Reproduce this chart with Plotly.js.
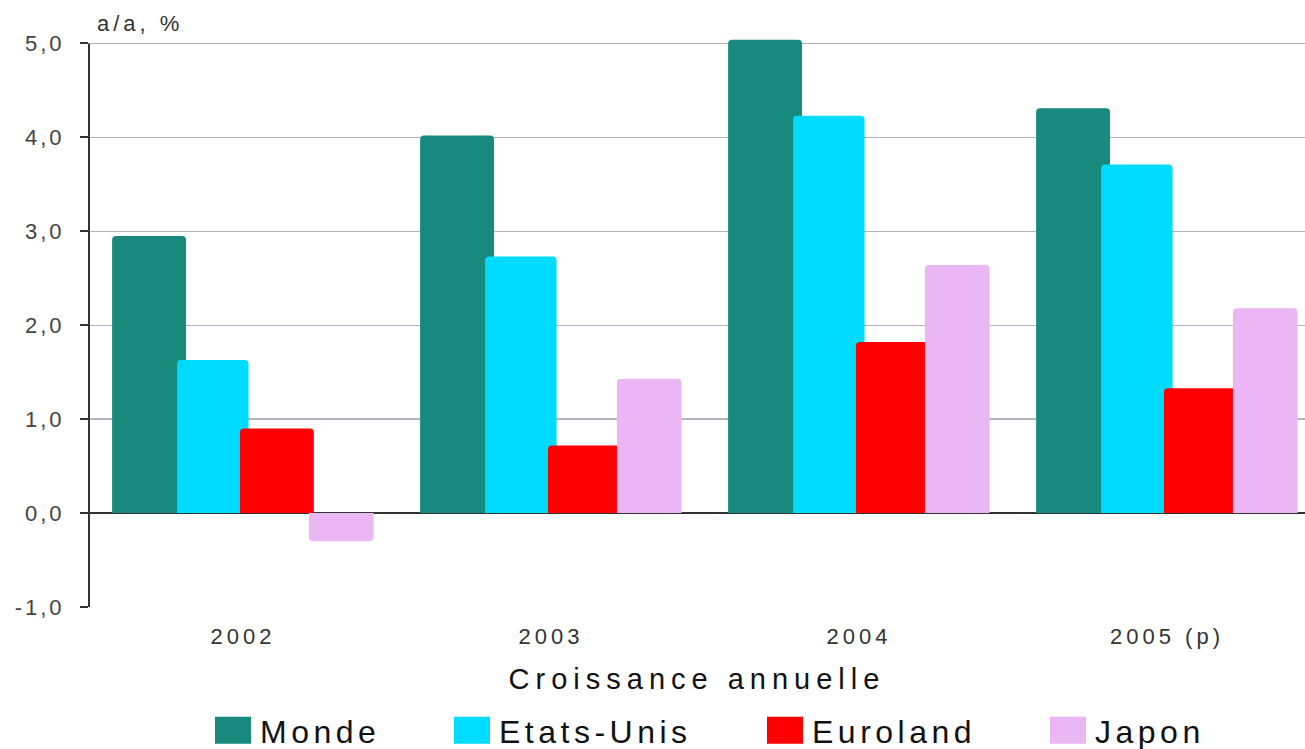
<!DOCTYPE html>
<html>
<head>
<meta charset="utf-8">
<script src="https://cdn.plot.ly/plotly-3.0.1.min.js"></script>
<style>
  html, body { margin: 0; padding: 0; background: #fff; }
  #chart { width: 1305px; height: 749px; }
  .xtick text { letter-spacing: 4px; }
  .ytick text { letter-spacing: 3px; }
  .g-xtitle text { letter-spacing: 6px; }
  text.legendtext { letter-spacing: 4.5px; }
  .annotation-text { letter-spacing: 4px; }
</style>
</head>
<body>
<div id="chart"></div>
<script>
const categories = ["2002", "2003", "2004", "2005 (p)"];
const monde = [2.95, 4.02, 5.04, 4.31];
const etatsUnis = [1.63, 2.73, 4.23, 3.71];
const euroland = [0.90, 0.72, 1.82, 1.33];
const japon = [-0.30, 1.43, 2.64, 2.18];

const seriesNames = ["Monde", "Etats-Unis", "Euroland", "Japon"];
const seriesValues = [monde, etatsUnis, euroland, japon];
const yTickVals = [-1, 0, 1, 2, 3, 4, 5];
const yTickText = ["-1,0", "0,0", "1,0", "2,0", "3,0", "4,0", "5,0"];

const colors = ["#17897d", "#00dcff", "#ff0000", "#eab6f4"];
const offsets = [-0.425, -0.214, -0.01, 0.214];
const widths = [0.24, 0.232, 0.24, 0.21];
const legendIds = ["legend", "legend2", "legend3", "legend4"];
const swatchLeft = [215, 454, 767, 1050];

const traces = seriesNames.map((name, i) => ({
  type: "bar",
  name: name,
  x: categories,
  y: seriesValues[i],
  offset: offsets[i],
  width: widths[i],
  legend: legendIds[i],
  marker: { color: colors[i], line: { width: 0 }, cornerradius: 4 },
  hoverinfo: "x+y+name"
}));

const layout = {
  width: 1305,
  height: 749,
  margin: { l: 89, r: 0, t: 33.6, b: 142 },
  paper_bgcolor: "#ffffff",
  plot_bgcolor: "#ffffff",
  barmode: "overlay",
  font: { family: "Liberation Sans, Arial, sans-serif", color: "#333333" },
  showlegend: true,
  xaxis: {
    type: "category",
    range: [-0.5, 3.448],
    showgrid: false,
    showline: false,
    ticks: "",
    ticklabelstandoff: 14,
    tickfont: { size: 22, color: "#333333" },
    title: { text: "Croissance annuelle", font: { size: 29, color: "#111111" }, standoff: 20 }
  },
  yaxis: {
    range: [-1, 5.1],
    tickvals: yTickVals,
    ticktext: yTickText,
    showgrid: true,
    gridcolor: "#b6b0c0",
    gridwidth: 1.3,
    zeroline: true,
    zerolinecolor: "#333333",
    zerolinewidth: 1.5,
    showline: false,
    ticks: "outside",
    ticklen: 8,
    tickwidth: 2,
    tickcolor: "#333333",
    ticklabelstandoff: 11,
    tickfont: { size: 22, color: "#444444" }
  },
  shapes: [{
    type: "line", xref: "paper", yref: "y",
    x0: 0, x1: 0, y0: -1, y1: 5,
    line: { color: "#333333", width: 2 }
  }],
  annotations: [{
    text: "a/a, %",
    xref: "paper", yref: "paper",
    x: 0.0, y: 1.0,
    xanchor: "left", yanchor: "bottom",
    xshift: 6, yshift: -4,
    showarrow: false,
    font: { size: 22, color: "#333333" }
  }]
};

legendIds.forEach((id, i) => {
  layout[id] = {
    orientation: "h",
    x: (swatchLeft[i] - 5) / 1305, xref: "container", xanchor: "left",
    y: (749 - 731) / 749, yref: "container", yanchor: "middle",
    font: { size: 32, color: "#111111" },
    itemwidth: 40,
    bgcolor: "rgba(0,0,0,0)",
    borderwidth: 0
  };
});

function restyleLegends() {
  document.querySelectorAll(".legendpoints path").forEach(p => {
    p.setAttribute("d", "M16,13H-20V-14H16Z");
  });
  document.querySelectorAll("svg text").forEach(t => {
    if (seriesNames.indexOf(t.textContent) !== -1) {
      t.setAttribute("letter-spacing", "4.5");
      t.style.letterSpacing = "4.5px";
      let el = t.parentNode;
      while (el && el.tagName && el.tagName.toLowerCase() !== "svg") {
        if (el.hasAttribute && el.hasAttribute("clip-path")) el.removeAttribute("clip-path");
        el = el.parentNode;
      }
    }
  });
}

Plotly.newPlot("chart", traces, layout, { displayModeBar: false, staticPlot: true }).then(gd => {
  restyleLegends();
  setTimeout(restyleLegends, 50);
  gd.on("plotly_afterplot", restyleLegends);
});
</script>
</body>
</html>
